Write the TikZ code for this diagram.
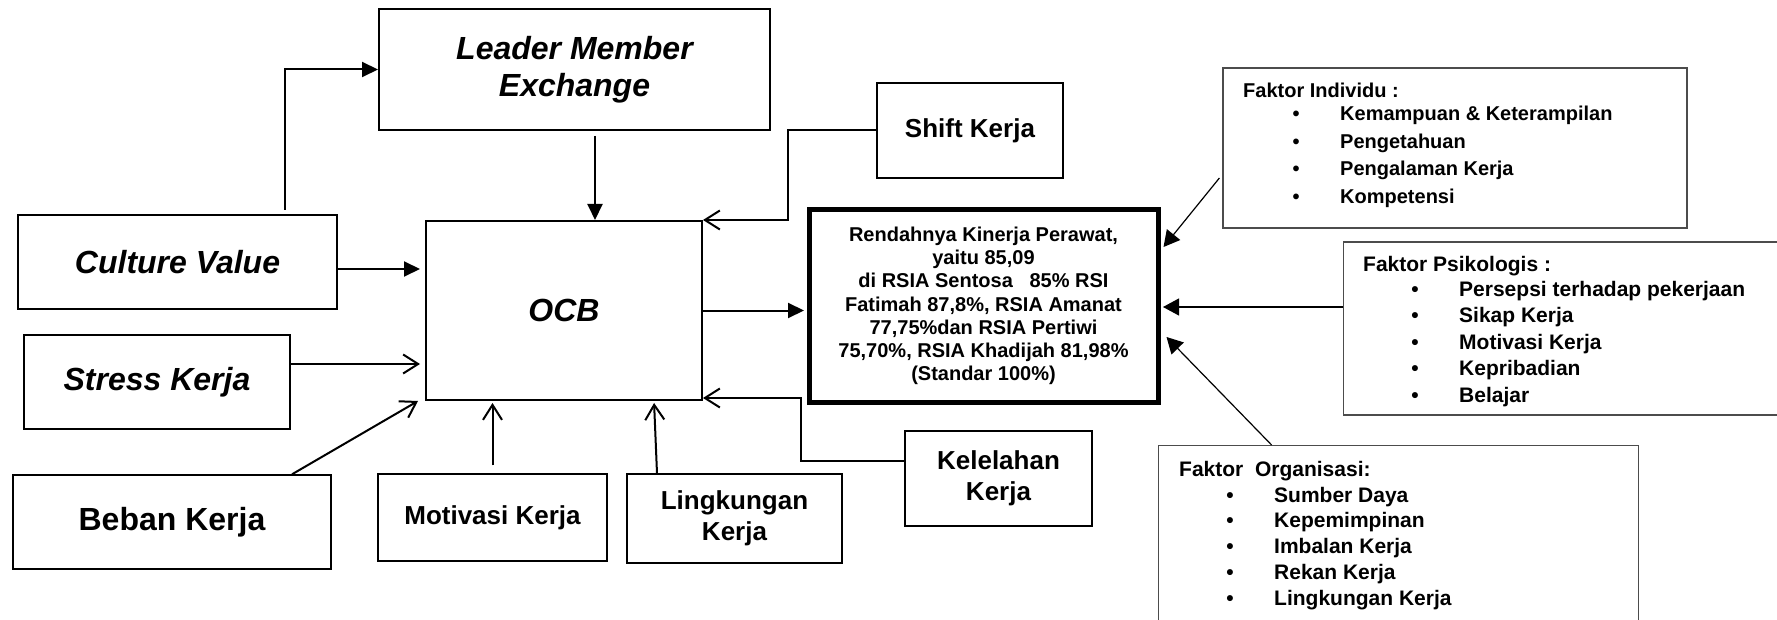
\documentclass[tikz,border=0pt]{standalone}
\usepackage{fontspec}
\setmainfont{Liberation Sans}
\usetikzlibrary{arrows.meta}
\begin{document}
\begin{tikzpicture}[x=1pt,y=-1pt,
  boxa/.style={draw, line width=2pt, inner sep=0pt, align=center},
  boxb/.style={draw, line width=1.4pt, inner sep=0pt, align=center},
  factorbox/.style={draw=black!70, line width=1.2pt, inner sep=0pt},
  mainbox/.style={draw, line width=5pt, inner sep=0pt, align=center},
  bigit/.style={font=\fontsize{32}{37}\selectfont\bfseries\itshape},
  bigup/.style={font=\fontsize{32}{37}\selectfont\bfseries},
  mid/.style={font=\fontsize{26}{31}\selectfont\bfseries},
  conn/.style={line width=2pt},
  fillarrow/.style={conn, -{Triangle[length=16pt,width=15pt]}},
  openarrow/.style={conn, -{Straight Barb[length=15pt,width=19pt]}},
  factorarrow/.style={line width=1.2pt, -{Triangle[length=16pt,width=17pt]}},
  ftxta/.style={anchor=base west, inner sep=0pt, font=\fontsize{20}{24}\selectfont\bfseries},
  fbula/.style={anchor=base, inner sep=0pt, font=\fontsize{20}{24}\selectfont\bfseries},
  ftxtb/.style={anchor=base west, inner sep=0pt, font=\fontsize{21}{25}\selectfont\bfseries},
  fbulb/.style={anchor=base, inner sep=0pt, font=\fontsize{21}{25}\selectfont\bfseries}
]
\useasboundingbox (0,0) rectangle (1777,620);

% left side boxes
\node[boxa, bigit, minimum width=391pt, minimum height=121pt] (lmx) at (574.5,69.5) {Leader Member\\Exchange};
\node[boxa, bigit, minimum width=319pt, minimum height=94pt] (culture) at (177.5,262) {Culture Value};
\node[boxa, bigit, minimum width=266pt, minimum height=94pt] (stress) at (157,382) {Stress Kerja};
\node[boxb, bigup, minimum width=318pt, minimum height=94pt] (beban) at (172,522) {Beban Kerja};
\node[boxb, mid, minimum width=229pt, minimum height=87pt] (motivasi) at (492.5,517.5) {Motivasi Kerja};
\node[boxb, mid, minimum width=215pt, minimum height=89pt] (lingkungan) at (734.5,518.5) {Lingkungan\\Kerja};
\node[boxa, bigit, minimum width=276pt, minimum height=179pt] (ocb) at (564,310.5) {OCB};
\node[boxb, mid, minimum width=186pt, minimum height=95pt] (shift) at (970,130.5) {Shift Kerja};
\node[boxb, mid, minimum width=187pt, minimum height=95pt] (kelelahan) at (998.5,478.5) {Kelelahan\\Kerja};

% main box
\node[mainbox, font=\fontsize{20}{23.2}\selectfont\bfseries, minimum width=349pt, minimum height=192pt] (main) at (983.5,306)
  {Rendahnya Kinerja Perawat,\\yaitu 85,09\\di RSIA Sentosa\ \ \ 85\% RSI\\Fatimah 87,8\%, RSIA Amanat\\77,75\%dan RSIA Pertiwi\\75,70\%, RSIA Khadijah 81,98\%\\(Standar 100\%)};

% factor boxes
\node[factorbox, minimum width=464pt, minimum height=160pt] (individu) at (1455,148) {};
\node[factorbox, minimum width=450pt, minimum height=173pt, anchor=west] (psikologis) at (1343,328.5) {};
\node[factorbox, minimum width=480pt, minimum height=190pt, anchor=north west] (organisasi) at (1158,445) {};

% Faktor Individu text
\node[ftxta] (indt) at (1243,98) {Faktor Individu :};
\foreach \t/\yy [count=\i] in {Kemampuan \& Keterampilan/121, Pengetahuan/149, Pengalaman Kerja/176, Kompetensi/204}{
  \node[fbula] (indb\i) at (1296,\yy) {•};
  \node[ftxta] (indi\i) at (1340,\yy) {\t};
}

% Faktor Psikologis text
\node[ftxtb] (psit) at (1363,272) {Faktor Psikologis :};
\foreach \t/\yy [count=\i] in {Persepsi terhadap pekerjaan/297, Sikap Kerja/323, Motivasi Kerja/349, Kepribadian/375, Belajar/402}{
  \node[fbulb] (psib\i) at (1415,\yy) {•};
  \node[ftxtb] (psii\i) at (1459,\yy) {\t};
}

% Faktor Organisasi text
\node[ftxtb] (orgt) at (1179,476) {Faktor\ \ Organisasi:};
\foreach \t/\yy [count=\i] in {Sumber Daya/502, Kepemimpinan/527, Imbalan Kerja/553, Rekan Kerja/579, Lingkungan Kerja/605}{
  \node[fbulb] (orgb\i) at (1230,\yy) {•};
  \node[ftxtb] (orgi\i) at (1274,\yy) {\t};
}

% connectors
\draw[fillarrow] ([xshift=107.5pt,yshift=4pt]culture.north) |- (lmx.west);
\draw[fillarrow] ([xshift=20.5pt,yshift=-5pt]lmx.south) -- ([xshift=20.5pt]lmx.south |- ocb.north);
\draw[fillarrow, shorten >=5pt] ([yshift=-7pt]culture.east) -- ([yshift=-7pt]culture.east -| ocb.west);
\draw[openarrow, shorten >=5pt] ([yshift=18pt]stress.east) -- ([yshift=18pt]stress.east -| ocb.west);
\draw[openarrow] ([xshift=120pt]beban.north) -- ([xshift=-7pt]ocb.south west);
\draw[openarrow, shorten >=2pt] ([yshift=8pt]motivasi.north) -- (motivasi.north |- ocb.south);
\draw[openarrow, shorten >=2pt] ([xshift=-77.5pt]lingkungan.north) -- ([xshift=90pt]ocb.south);
\draw[openarrow] (shift.west) -- ++(-88,0) |- (ocb.north east);
\draw[openarrow] ([yshift=17.5pt]kelelahan.west) -- ++(-103,0) |- ([yshift=3pt]ocb.south east);
\draw[fillarrow, shorten >=2.5pt] (ocb.east) -- (ocb.east -| main.west);

\draw[factorarrow] ([xshift=-3pt,yshift=-30pt]individu.west) -- ([xshift=3pt,yshift=59pt]main.east);
\draw[factorarrow, shorten >=2.5pt] ([yshift=21.5pt]psikologis.west) -- ([yshift=21.5pt]psikologis.west -| main.east);
\draw[factorarrow] ([xshift=-127pt]organisasi.north) -- ([xshift=6pt,yshift=-31pt]main.east);
\end{tikzpicture}
\end{document}
